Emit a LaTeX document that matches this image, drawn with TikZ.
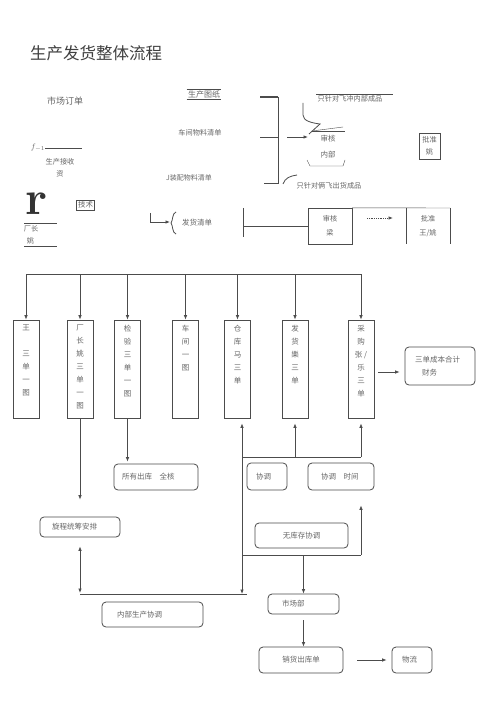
\documentclass[tikz,border=0pt]{standalone}
\usepackage{fontspec}
\usepackage{amsmath}
\newfontfamily\cjk{Noto Sans CJK SC}
\usetikzlibrary{arrows.meta}
\definecolor{linegray}{rgb}{0.3,0.3,0.3}
\definecolor{textgray}{rgb}{0.4,0.4,0.4}

\tikzset{
  zh/.style={font=\cjk\fontsize{7.5}{13}\selectfont, text=textgray, inner sep=1pt, align=center},
  small/.style={font=\cjk\fontsize{7.2}{12}\selectfont},
  colbox/.style={draw, minimum width=26pt, minimum height=98pt, inner sep=0pt},
  coltext/.style={zh, anchor=north, yshift=-4pt},
  lbox/.style 2 args={draw, rounded corners=4pt, zh, align=left, inner xsep=0pt, minimum width=#1, text width=#2},
  cbox/.style={draw, rounded corners=4pt, zh},
}

\begin{document}
\begin{tikzpicture}[x=1pt, y=-1pt, color=linegray, line width=0.8pt,
  >={Latex[length=4.5pt,width=3.6pt]}]
\fill[white] (0,0) rectangle (500,708);
\useasboundingbox (0,0) rectangle (500,708);

\begin{scope}
  \node[zh, font=\cjk\fontsize{16.5}{18}\selectfont, text=black!75] (title) at (96,53) {生产发货整体流程};
  \node[zh, font=\cjk\fontsize{9}{11}\selectfont] (dingdan) at (65,101) {市场订单};
  \node[zh, font=\cjk\fontsize{8}{10}\selectfont] (tuzhi) at (204,94) {生产图纸};
  \draw[thin] (tuzhi.north west) -- (tuzhi.north east);
  \draw[thin] (tuzhi.south west) -- (tuzhi.south east);
  \node[zh, small] (wuliao) at (200,133) {车间物料清单};
  \node[zh, font=\cjk\fontsize{7}{9}\selectfont] (zhuangpei) at (189,178) {J装配物料清单};
\end{scope}

% bracket and garbled arrow
\begin{scope}
  \draw[line width=1.8pt] (260,97) -- (278,97);
  \draw (278,97) -- (278,183) -- (264,183);
  \draw (260,137) -- (278,137);
  \draw[->] (287,137) -- (308,137);
  \draw (303,103) -- (303,115) .. controls (303,121) and (312,123) .. (320,124) -- (309,134);
  \draw[thin] (312,131) -- (343,127);
  \draw[thin] (312,131) -- (345,131);
  \node[zh, small] (neibu1) at (350,99) {只针对飞冲内部成品};
  \draw[thin] (neibu1.north west) -- ([xshift=9pt]neibu1.north east);
  \node[zh] (shenhe1) at (328,147) {审核\\[3pt]内部};
  \draw[thin] (307,160) -- (310,166) -- (343,166) -- (345,160);
  \draw (283,184) .. controls (285,178) and (290,176) .. (297,175);
  \node[zh, small] (chuhuo) at (329,186) {只针对俩飞出货成品};
  \node[zh, draw, thin, small, minimum width=21pt, minimum height=26pt] (pizhun1) at (429.5,146) {批准\\姚};
\end{scope}

\begin{scope}
  \draw[->] (150,213) -- (150,222) -- (170,222);
  \draw (176,212) .. controls (172,213) and (173,221) .. (171,223) .. controls (173,225) and (172,233) .. (176,234);
  \node[zh] (fahuodan) at (197,223) {发货清单};
  \draw (243,208) -- (243,237);
  \node[zh, small, draw, thin, minimum width=44pt, minimum height=36pt] (shenhe2) at (330,226) {审核\\[2pt]梁};
  \draw[thin] (243,226) -- (shenhe2.west);
  \draw[thin] (shenhe2.north east) -- (450,208);
  \draw[thin] (406,208) -- (406,244);
  \draw[thin] (450,208) -- (450,244);
  \draw[->, densely dotted] (367,218) -- (393,218);
  \node[zh, small] (pizhun2) at (428,226) {批准\\[2pt]王/姚};
\end{scope}

\begin{scope}
  \node[text=textgray, font=\fontsize{8}{8}\selectfont, inner sep=0pt] (fx) at (38,148) {$f_{-1}$};
  \draw[thin] (fx.east) -- (82,148);
  \node[zh, small] (jieshou) at (60,168) {生产接收\\资};
  \node[text=black!80, font=\fontsize{48}{48}\selectfont\bfseries, inner sep=0pt] (bigr) at (37,204) {r};
  \node[zh, draw, thin, inner sep=1.5pt] (jishu) at (85.5,205) {技术};
  \node[zh, small, align=left] (chang) at (31,235) {厂长\\\hspace*{3pt}姚};
  \draw[thin] (24,223) -- (57,223);
  \draw[thin] (24,246) -- (57,246);
\end{scope}

% column boxes
\node[colbox, label={[coltext]north:{王\\[13pt]三\\单\\一\\图}}] (wang) at (26,369) {};
\node[colbox, label={[coltext]north:{厂\\长\\姚\\三\\单\\一\\图}}] (changzhang) at (80,369) {};
\node[colbox, label={[coltext]north:{检\\验\\三\\单\\一\\图}}] (jianyan) at (127.5,369) {};
\node[colbox, label={[coltext]north:{车\\间\\一\\图}}] (chejian) at (185.5,369) {};
\node[colbox, label={[coltext]north:{仓\\库\\马\\三\\单}}] (cangku) at (237.5,369) {};
\node[colbox, label={[coltext]north:{发\\货\\樂\\三\\单}}] (fahuo) at (295,369) {};
\node[colbox, label={[coltext]north:{采\\购\\张 /\\乐\\三\\单}}] (caigou) at (361,369) {};

\coordinate (bus) at (0,274);
\draw (wang.north |- bus) -- (caigou.north |- bus);
\draw[->] (wang.north |- bus) -- (wang.north);
\draw[->] (changzhang.north |- bus) -- (changzhang.north);
\draw[->] (jianyan.north |- bus) -- (jianyan.north);
\draw[->] (chejian.north |- bus) -- (chejian.north);
\draw[->] (cangku.north |- bus) -- (cangku.north);
\draw[->] (fahuo.north |- bus) -- (fahuo.north);
\draw[->] (caigou.north |- bus) -- (caigou.north);

% lower boxes
\node[lbox={70pt}{50pt}, minimum height=38pt] (caiwu) at (440,366) {三单成本合计\\\hspace*{7pt}财务};
\node[lbox={80pt}{56pt}, minimum height=20pt] (tongchou) at (80,527) {旋程统筹安排};
\node[lbox={84pt}{68pt}, minimum height=26pt] (chuku) at (156,477) {所有出库\quad 全核};
\node[lbox={101pt}{71pt}, minimum height=25pt] (neibu) at (152.5,614.5) {内部生产协调};
\node[lbox={40pt}{22pt}, minimum height=27pt] (xietiao) at (267,476.5) {协调};
\node[lbox={66pt}{40pt}, minimum height=27pt] (shijian) at (341,476.5) {协调\quad 时间};
\node[cbox, minimum width=93pt, minimum height=25pt] (wukucun) at (301.5,535.5) {无库存协调};
\node[lbox={71pt}{43pt}, minimum height=20pt] (shichang) at (303.5,604) {市场部};
\node[cbox, minimum width=84pt, minimum height=26pt] (xiaohuo) at (301,660) {销货出库单};
\node[lbox={40pt}{20pt}, minimum height=26pt] (wuliu) at (412,660) {物流};

% connectors
\coordinate (cw) at ([yshift=-6pt]caiwu.west);
\draw[->, shorten <=4pt, shorten >=5pt] (caigou.east |- cw) -- (cw);
\draw[->, shorten >=17pt] (changzhang.south) -- (tongchou.north);
\draw[->, shorten >=2pt] (jianyan.south) -- (jianyan.south |- chuku.north);

\coordinate (hub) at (242,594);
\coordinate (fork) at (242,457);
\coordinate (merge) at (242,555);
\draw[<->, shorten <=5pt] (cangku.south -| hub) -- (hub);
\draw (tongchou.south |- hub) -- ([xshift=5pt]hub);
\draw[<->, shorten <=9pt, shorten >=1pt] (tongchou.south) -- (tongchou.south |- hub);

\draw (fork) -- (fork -| caigou.south);
\draw[->, shorten >=5pt] (fork -| fahuo.south) -- (fahuo.south);
\draw[->, shorten >=5pt] (fork -| caigou.south) -- (caigou.south);

\draw (merge) -- (merge -| caigou.south);
\draw[->, shorten >=15pt] (merge -| caigou.south) -- (shijian.south -| caigou.south);
\draw[->] (merge -| shichang.north) -- (shichang.north);
\draw[->, shorten <=6pt] (shichang.south) -- (shichang.south |- xiaohuo.north);
\draw[->, shorten <=14pt, shorten >=5pt] (xiaohuo.east) -- (wuliu.west);

\end{tikzpicture}
\end{document}
